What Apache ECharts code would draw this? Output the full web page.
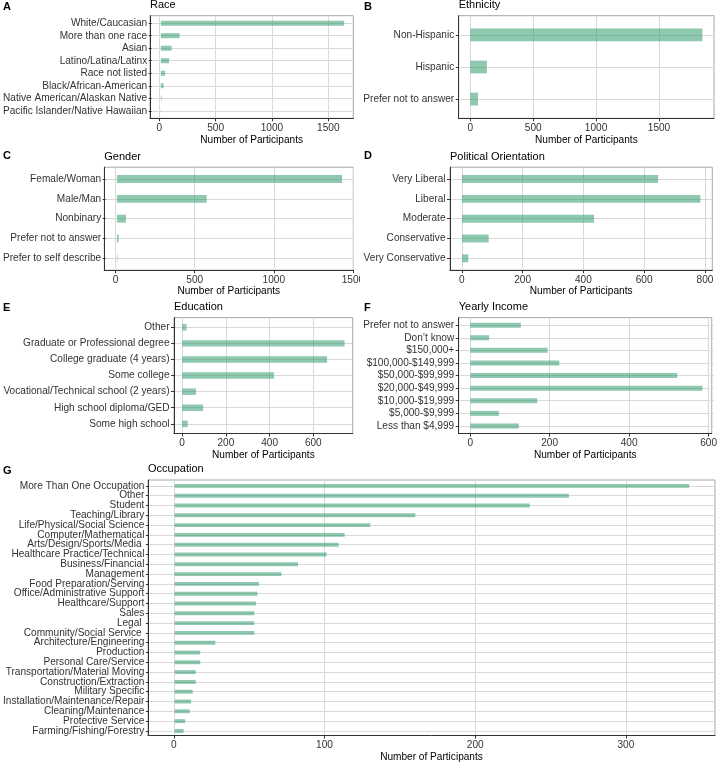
<!DOCTYPE html>
<html><head><meta charset="utf-8">
<script src="https://cdn.jsdelivr.net/npm/echarts@6/dist/echarts.min.js"></script>
<style>html,body{margin:0;padding:0;background:#fff}#c{width:720px;height:763px}</style>
</head><body><div id="c"></div>
<script>
// ---- data ----
const raceCats = ['White/Caucasian','More than one race','Asian','Latino/Latina/Latinx','Race not listed','Black/African-American','Native American/Alaskan Native','Pacific Islander/Native Hawaiian'];
const raceVals = [1640,168,97,74,38,24,6,2];
const raceTicks = [0,500,1000,1500];

const ethCats = ['Non-Hispanic','Hispanic','Prefer not to answer'];
const ethVals = [1845,132,61];
const ethTicks = [0,500,1000,1500];

const genderCats = ['Female/Woman','Male/Man','Nonbinary','Prefer not to answer','Prefer to self describe'];
const genderVals = [1431,570,57,11,3];
const genderTicks = [0,500,1000,1500];

const polCats = ['Very Liberal','Liberal','Moderate','Conservative','Very Conservative'];
const polVals = [646,785,435,88,21];
const polTicks = [0,200,400,600,800];

const eduCats = ['Other','Graduate or Professional degree','College graduate (4 years)','Some college','Vocational/Technical school (2 years)','High school diploma/GED','Some high school'];
const eduVals = [20,743,663,420,64,96,26];
const eduTicks = [0,200,400,600];

const incCats = ['Prefer not to answer','Don\u2019t know','$150,000+','$100,000-$149,999','$50,000-$99,999','$20,000-$49,999','$10,000-$19,999','$5,000-$9,999','Less than $4,999'];
const incVals = [126,47,193,222,516,579,167,71,121];
const incTicks = [0,200,400,600];

const occCats = ['More Than One Occupation','Other','Student','Teaching/Library','Life/Physical/Social Science','Computer/Mathematical','Arts/Design/Sports/Media ','Healthcare Practice/Technical','Business/Financial','Management','Food Preparation/Serving','Office/Administrative Support','Healthcare/Support','Sales','Legal ','Community/Social Service ','Architecture/Engineering','Production','Personal Care/Service','Transportation/Material Moving','Construction/Extraction','Military Specific','Installation/Maintenance/Repair','Cleaning/Maintenance','Protective Service','Farming/Fishing/Forestry'];
const occVals = [342,262,236,160,130,113,109,101,82,71,56,55,54,53,53,53,27,17,17,14,14,12,11,10,7,6];
const occTicks = [0,100,200,300];

const axisTitle = 'Number of Participants';

// ---- layout ----
const FONT = "'Liberation Sans', Arial, Helvetica, sans-serif";
const BAR = 'rgba(50,155,110,0.55)';
const GRIDC = '#d9d9d9';
const AXC = '#333333';
const TXT = '#333333';
const panels = [
 {letter:'A', title:'Race', cats:raceCats, vals:raceVals, ticks:raceTicks, split:4, L:150, R:353.3, T:15.7, B:118.3, lx:3, ly:7},
 {letter:'B', title:'Ethnicity', cats:ethCats, vals:ethVals, ticks:ethTicks, split:4, L:458.7, R:714, T:15.7, B:118.3, lx:364, ly:7},
 {letter:'C', title:'Gender', cats:genderCats, vals:genderVals, ticks:genderTicks, split:3, L:104.3, R:353.3, T:167.2, B:270.2, lx:3, ly:156},
 {letter:'D', title:'Political Orientation', cats:polCats, vals:polVals, ticks:polTicks, split:5, L:450, R:712.3, T:167.2, B:270.2, lx:364, ly:156},
 {letter:'E', title:'Education', cats:eduCats, vals:eduVals, ticks:eduTicks, split:5, L:174, R:352.7, T:317.6, B:433.5, lx:3, ly:308},
 {letter:'F', title:'Yearly Income', cats:incCats, vals:incVals, ticks:incTicks, split:3, L:458.7, R:714, T:317.6, B:433.5, lx:364, ly:308},
 {letter:'G', title:'Occupation', cats:occCats, vals:occVals, ticks:occTicks, split:5, L:148, R:715, T:480, B:736.8, lx:3, ly:471}
];

const grid = [], xAxis = [], yAxis = [], series = [], graphic = [];
panels.forEach((p, i) => {
  const n = p.cats.length;
  const u = (p.B - p.T) / (n + 0.2);
  const mx = Math.max(...p.vals);
  const xmin = -0.05 * mx, xmax = 1.05 * mx;
  const gP = 2 * i, gQ = 2 * i + 1;
  grid.push({left: p.L, top: p.T, width: p.R - p.L, height: p.B - p.T, show: true,
    borderColor: '#a6a6a6', borderWidth: 1, backgroundColor: 'transparent', containLabel: false});
  grid.push({left: p.L, top: p.T + 0.1 * u, width: p.R - p.L, height: n * u, show: false, containLabel: false});

  xAxis.push({type: 'value', gridIndex: gP, min: xmin, max: xmax, splitNumber: p.split,
    axisLine: {show: true, onZero: false, lineStyle: {color: AXC, width: 1}},
    axisTick: {show: true, length: 3, lineStyle: {color: AXC}, customValues: p.ticks},
    axisLabel: {show: true, margin: 5, fontSize: 10.1, color: TXT, fontFamily: FONT, customValues: p.ticks,
      formatter: v => (p.ticks.indexOf(v) >= 0 ? String(v) : '')},
    splitLine: {show: true, lineStyle: {color: GRIDC, width: 1}},
    name: axisTitle, nameLocation: 'middle', nameGap: 16.5,
    nameTextStyle: {fontSize: 10.1, color: '#000', fontFamily: FONT, verticalAlign: 'top'}});
  yAxis.push({type: 'value', gridIndex: gP, min: 0, max: 1,
    axisLine: {show: true, onZero: false, lineStyle: {color: AXC, width: 1}},
    axisTick: {show: false}, axisLabel: {show: false}, splitLine: {show: false}});

  xAxis.push({type: 'value', gridIndex: gQ, min: xmin, max: xmax, show: false, splitLine: {show: false}});
  yAxis.push({type: 'category', gridIndex: gQ, data: p.cats, inverse: true,
    axisLine: {show: false, onZero: false},
    axisTick: {show: true, alignWithLabel: true, length: 3, lineStyle: {color: AXC}},
    axisLabel: {show: true, margin: 4.5, fontSize: 10.1, color: TXT, fontFamily: FONT, interval: 0},
    splitLine: {show: true, alignWithLabel: true, interval: 0, lineStyle: {color: GRIDC, width: 1}}});

  series.push({type: 'bar', xAxisIndex: gQ, yAxisIndex: gQ, data: p.vals,
    barWidth: 0.4 * u, itemStyle: {color: BAR}, silent: true, animation: false});

  graphic.push({type: 'text', x: p.L, y: p.T - 10.7,
    style: {text: p.title, fontSize: 11, fontFamily: FONT, fill: '#000', verticalAlign: 'middle', align: 'left'}});
  graphic.push({type: 'text', x: p.lx, y: p.ly,
    style: {text: p.letter, fontSize: 11, fontWeight: 'bold', fontFamily: FONT, fill: '#000', verticalAlign: 'middle', align: 'left'}});
});
// sub-figure C is cut at its right edge in the original layout
graphic.push({type: 'rect', shape: {x: 360, y: 273, width: 8, height: 13}, style: {fill: '#ffffff'}, z: 100});

const chart = echarts.init(document.getElementById('c'), null, {renderer: 'canvas'});
chart.setOption({
  animation: false,
  backgroundColor: '#ffffff',
  textStyle: {fontFamily: FONT},
  grid, xAxis, yAxis, series, graphic
});
</script>
</body></html>
